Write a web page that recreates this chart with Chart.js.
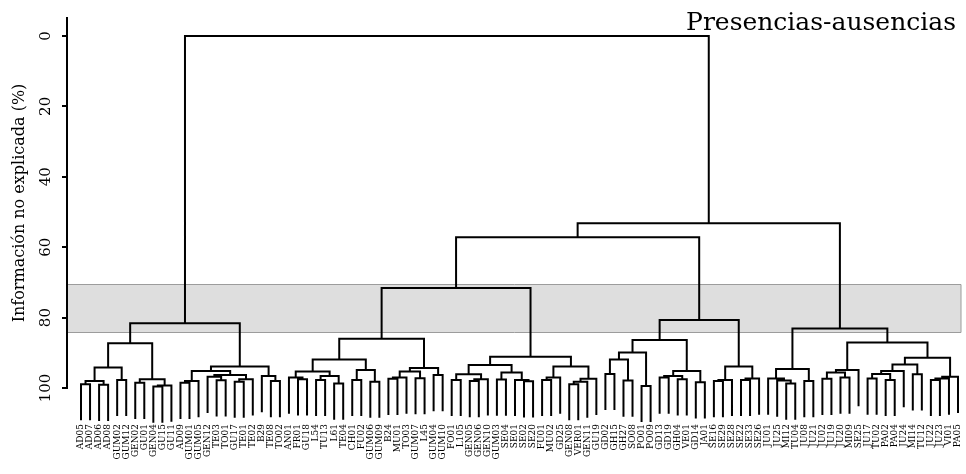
<!DOCTYPE html>
<html>
<head>
<meta charset="utf-8">
<script src="https://cdn.jsdelivr.net/npm/chart.js@4/dist/chart.umd.min.js"></script>
<style>
  html, body { margin: 0; padding: 0; background: #fff; }
</style>
</head>
<body>
<canvas id="dendro" width="966" height="474"></canvas>
<script>
// leaf order, left to right
const leaves = [
  'AD05','AD07','AD06','AD08','GUM02','GUM12','GEN02','GU01','GEN04','GU15','GU11',
  'AD09','GUM01','GUM05','GEN12','TE03','TO01','GU17','TE01','TE02','B29','TE08','TO02',
  'AN01','FR01','GU18','L54','TU13','L61','TE04','CH01','FU02','GUM06','GUM09',
  'B24','MU01','TO03','GUM07','L45','GUM04','GUM10',
  'FO01','L105','GEN05','GEN06','GEN10','GUM03','SE04','SE01','SE02','SE20',
  'FU01','MU02','GD25','GEN08','VER01','GEN11','GU19',
  'GD02','GH15','GH27','SO08','PO01','PO09','GD13','GD19','GH04','VE01','GD14','JA01',
  'SE16','SE29','SE28','SE22','SE33','SE26',
  'JU01','JU25','MI12','TU04','JU08','JU21','JU02','JU19','JU20','MI09','SE25',
  'JU17','TU02','PA02','PA04','JU24','MI14','TU12','JU22','JU23','VI01','PA05'
];

// merges: negative = leaf (1-based), positive = earlier merge (1-based)
const mergeA = [
  -1,-3,1,-5,3,-7,-9,7,6,5,
  -12,11,-16,-15,-18,15,14,12,-22,-21,18,10,
  -25,-24,-27,-29,25,24,-31,-33,29,28,-35,33,-38,34,-40,36,32,
  -42,-44,41,40,-47,-50,-49,44,43,-52,49,-55,51,52,50,48,39,
  -59,-61,57,-63,59,-65,-67,62,-69,64,61,-71,68,-74,70,69,67,56,
  -79,-78,-77,-81,77,-83,-85,80,82,-88,-90,84,86,-93,87,-95,90,91,89,83,79,74,22
];
const mergeB = [
  -2,-4,2,-6,4,-8,-10,-11,8,9,
  -13,-14,-17,13,-19,-20,16,17,-23,19,20,21,
  -26,23,-28,-30,26,27,-32,-34,30,31,-36,-37,-39,35,-41,37,38,
  -43,-45,-46,42,-48,-51,45,46,47,-53,-54,-56,-57,-58,53,54,55,
  -60,-62,58,-64,60,-66,-68,63,-70,65,66,-72,-73,-75,-76,71,72,73,
  -80,75,76,-82,78,-84,-86,81,-87,-89,-91,85,-92,-94,88,-96,-97,-98,92,93,94,95,96
];
const mergeH = [
  98.9,99.1,98.0,97.7,94.2,98.5,99.6,99.3,97.5,87.3,
  98.5,98.0,97.8,96.8,98.2,97.5,96.3,95.2,98.0,96.6,93.9,81.6,
  97.5,97.0,97.7,98.7,96.6,95.3,97.7,98.2,94.9,91.9,97.4,97.0,97.2,95.3,96.3,94.3,86.0,
  97.7,98.0,97.5,96.1,97.6,98.1,97.7,95.6,93.5,97.7,97.0,98.9,98.2,97.4,93.9,91.1,71.6,
  96.0,97.9,91.9,99.4,89.9,97.0,97.5,96.6,98.4,95.2,86.4,98.0,97.7,97.7,97.3,93.9,80.7,57.2,
  98.7,97.9,97.3,98.0,94.6,97.4,97.0,95.6,94.9,97.3,97.7,96.0,95.2,96.1,93.3,97.7,97.3,96.8,91.4,87.1,83.1,53.2,0.0
];

const yTicks = [0, 20, 40, 60, 80, 100];
const bandRange = [70.4, 84.0];
const hang = 10;

// build the dendrogram as one broken polyline
const mergeX = [];
const xOf = c => c < 0 ? -c - 1 : mergeX[c - 1];
const yOf = (c, h) => c < 0 ? h + hang : mergeH[c - 1];
const segs = [];
mergeH.forEach((h, i) => {
  const a = mergeA[i], b = mergeB[i];
  const xa = xOf(a), xb = xOf(b);
  mergeX[i] = (xa + xb) / 2;
  segs.push({x: xa, y: yOf(a, h)}, {x: xa, y: h}, {x: xb, y: h}, {x: xb, y: yOf(b, h)}, {x: null, y: null});
});

const bandPlugin = {
  id: 'band',
  beforeDatasetsDraw(chart) {
    const {ctx, chartArea: a, scales: {y}} = chart;
    const t = Math.round(y.getPixelForValue(bandRange[0])) + 0.5;
    const b = Math.round(y.getPixelForValue(bandRange[1])) + 0.5;
    ctx.save();
    ctx.fillStyle = '#dedede';
    ctx.fillRect(a.left + 1, t, a.right - 5 - a.left - 1, b - t);
    ctx.strokeStyle = '#9c9c9c';
    ctx.lineWidth = 1;
    ctx.beginPath();
    ctx.moveTo(a.left + 1, t); ctx.lineTo(a.right - 5, t); ctx.lineTo(a.right - 5, b); ctx.lineTo(a.left + 1, b);
    ctx.stroke();
    ctx.restore();
  }
};

const titlePlugin = {
  id: 'cornerTitle',
  afterDraw(chart) {
    const ctx = chart.ctx;
    ctx.save();
    ctx.font = '25px "DejaVu Serif"';
    ctx.fillStyle = '#000';
    ctx.textAlign = 'right';
    ctx.textBaseline = 'alphabetic';
    ctx.fillText('Presencias-ausencias', 956, 30);
    ctx.restore();
  }
};

new Chart(document.getElementById('dendro'), {
  type: 'scatter',
  data: {
    datasets: [{
      data: segs,
      showLine: true,
      spanGaps: false,
      borderColor: '#000',
      borderWidth: 2,
      borderCapStyle: 'square',
      borderJoinStyle: 'miter',
      pointRadius: 0,
      pointHoverRadius: 0,
      clip: false
    }]
  },
  options: {
    responsive: false,
    animation: false,
    layout: { padding: { top: 18, left: 0, right: 0, bottom: 0 } },
    plugins: { legend: { display: false }, tooltip: { enabled: false } },
    scales: {
      x: {
        type: 'linear',
        min: -1.549,
        max: 97.885,
        grid: { display: false, drawTicks: false },
        border: { display: false },
        afterBuildTicks: s => { s.ticks = leaves.map((_, i) => ({ value: i })); },
        afterFit: s => { s.height = 86; s.paddingLeft = 0; s.paddingRight = 0; },
        ticks: {
          autoSkip: false,
          minRotation: 90,
          maxRotation: 90,
          padding: 36,
          color: '#000',
          font: { family: 'DejaVu Serif', size: 9 },
          callback: v => leaves[v] ?? ''
        }
      },
      y: {
        type: 'linear',
        reverse: true,
        min: -5.1,
        max: 100,
        afterBuildTicks: s => { s.ticks = yTicks.map(v => ({ value: v })); },
        afterFit: s => { s.width = 67; s.paddingTop = 0; s.paddingBottom = 0; },
        grid: { drawOnChartArea: false, drawTicks: true, tickLength: 5, color: '#000', lineWidth: 2 },
        border: { display: true, color: '#000', width: 2 },
        ticks: {
          minRotation: 90,
          maxRotation: 90,
          crossAlign: 'center',
          padding: 2,
          color: '#000',
          font: { family: 'DejaVu Serif', size: 15 }
        },
        title: {
          display: true,
          text: 'Información no explicada (%)',
          color: '#000',
          font: { family: 'DejaVu Serif', size: 16 },
          padding: { top: 10, bottom: 0 }
        }
      }
    }
  },
  plugins: [bandPlugin, titlePlugin]
});
</script>
</body>
</html>
